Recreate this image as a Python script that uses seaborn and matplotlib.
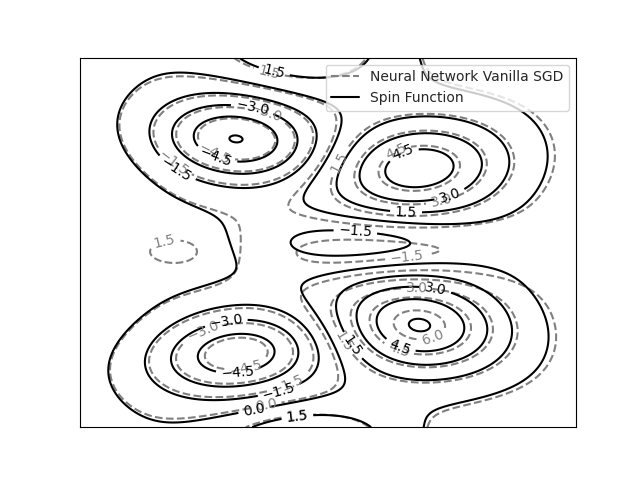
import numpy as np
import matplotlib.pyplot as plt
import seaborn as sns
from matplotlib.lines import Line2D

sns.set_style("white", {"axes.edgecolor": "black"})

# contour levels shown in the chart
levels = [-6.0, -4.5, -3.0, -1.5, 0.0, 1.5, 3.0, 4.5, 6.0]

# spin function, read off the picture as a sum of bumps
# (centre x, centre y, height, width x, width y, tilt in degrees)
spin_cx = [0.315, 0.317, 0.682, 0.681, 0.575, 0.46, 0.47, 0.00, 0.21, 1.10, 0.85, 0.85]
spin_cy = [0.780, 0.200, 0.700, 0.276, 0.50, 1.04, -0.04, 0.50, 0.48, 0.50, 1.08, -0.08]
spin_h = [-6.12, -5.6, 5.4, 6.22, -2.6, 3.3, 3.4, 1.3, 1.0, -1.2, -1.3, -1.3]
spin_sx = [0.117, 0.130, 0.125, 0.122, 0.16, 0.13, 0.13, 0.12, 0.09, 0.15, 0.20, 0.20]
spin_sy = [0.080, 0.082, 0.088, 0.090, 0.055, 0.085, 0.065, 0.35, 0.06, 0.40, 0.10, 0.10]
spin_tilt = [-10, 10, 10, -10, 0, 0, 0, 0, 0, 0, 0, 0]

# neural network fit (vanilla SGD), same bumps slightly off
nn_cx = [0.318, 0.318, 0.682, 0.681, 0.61, 0.45, 0.46, 0.00, 0.22, 1.10, 0.87, 0.87]
nn_cy = [0.780, 0.200, 0.700, 0.278, 0.47, 1.04, -0.04, 0.50, 0.474, 0.50, 1.08, -0.08]
nn_h = [-6.0, -5.3, 5.7, 6.7, -2.8, 3.2, 3.3, 1.1, 1.7, -1.0, -1.1, -1.1]
nn_sx = [0.112, 0.125, 0.128, 0.125, 0.18, 0.13, 0.13, 0.12, 0.08, 0.15, 0.20, 0.20]
nn_sy = [0.076, 0.078, 0.090, 0.092, 0.06, 0.085, 0.065, 0.35, 0.055, 0.40, 0.10, 0.10]
nn_tilt = [-10, 10, 10, -10, 0, 0, 0, 0, 0, 0, 0, 0]


def surface(X, Y, cx, cy, h, sx, sy, tilt):
    Z = np.zeros_like(X)
    for x0, y0, a, wx, wy, t in zip(cx, cy, h, sx, sy, tilt):
        th = np.radians(t)
        dx, dy = X - x0, Y - y0
        p = dx * np.cos(th) + dy * np.sin(th)
        q = -dx * np.sin(th) + dy * np.cos(th)
        Z += a * np.exp(-(p ** 2 / (2 * wx ** 2) + q ** 2 / (2 * wy ** 2)))
    return Z


x = np.linspace(0, 1, 300)
y = np.linspace(0, 1, 300)
X, Y = np.meshgrid(x, y)
Z_spin = surface(X, Y, spin_cx, spin_cy, spin_h, spin_sx, spin_sy, spin_tilt)
Z_nn = surface(X, Y, nn_cx, nn_cy, nn_h, nn_sx, nn_sy, nn_tilt)

fig, ax = plt.subplots(figsize=(6.4, 4.8), dpi=100)
cs_nn = ax.contour(X, Y, Z_nn, levels=levels, colors='gray', linestyles='dashed', linewidths=1.5)
ax.clabel(cs_nn, inline=True, fontsize=10)
cs_spin = ax.contour(X, Y, Z_spin, levels=levels, colors='black', linestyles='solid', linewidths=1.5)
ax.clabel(cs_spin, inline=True, fontsize=10)

ax.set_xticks([])
ax.set_yticks([])
handles = [Line2D([], [], color='gray', linestyle='--', linewidth=1.5),
           Line2D([], [], color='black', linestyle='-', linewidth=1.5)]
ax.legend(handles, ['Neural Network Vanilla SGD', 'Spin Function'], loc='upper right', fontsize=10)

fig.savefig('out.png', dpi=100)
